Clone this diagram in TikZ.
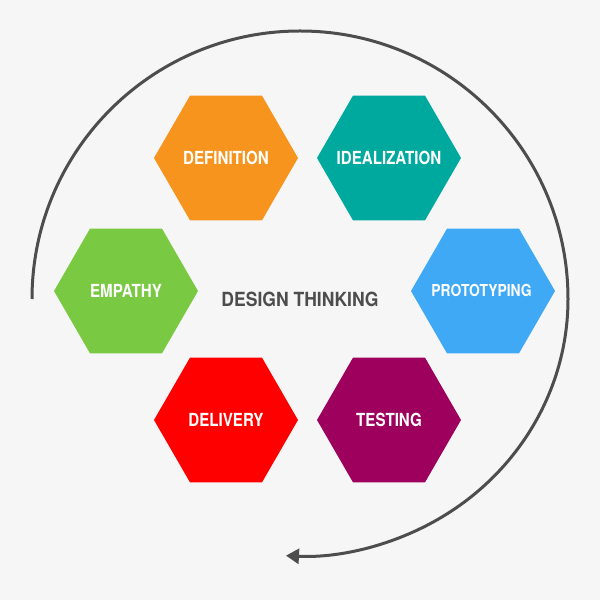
\documentclass[tikz,border=0pt]{standalone}
\usepackage{fontspec}
\setmainfont{TeX Gyre Heros}
\newfontfamily\condfont[FakeStretch=0.84]{TeX Gyre Heros}
\newfontfamily\centerfont[FakeStretch=0.9]{TeX Gyre Heros}
\usetikzlibrary{shapes.geometric,arrows.meta}
\definecolor{bgcol}{HTML}{F6F6F6}
\definecolor{linecol}{HTML}{4D4D4D}
\definecolor{cdef}{HTML}{F7941D}
\definecolor{cidea}{HTML}{00A99D}
\definecolor{cemp}{HTML}{7AC943}
\definecolor{cproto}{HTML}{3FA9F5}
\definecolor{cdeliv}{HTML}{FF0000}
\definecolor{ctest}{HTML}{9E005D}
\tikzset{
  hexbox/.style={regular polygon, regular polygon sides=6, minimum size=144pt,
    inner sep=0pt, draw=none, fill=#1},
  hexlabel/.style={text=white, font=\condfont\bfseries\fontsize{18}{20}\selectfont},
  centertext/.style={text=linecol, font=\centerfont\bfseries\fontsize{19.5}{22}\selectfont},
  cycleline/.style={draw=linecol, line width=3pt, -{Triangle[length=13pt,width=15pt]}}
}
\begin{document}
\begin{tikzpicture}[x=1pt,y=1pt]
  \useasboundingbox[fill=bgcol] (0,0) rectangle (600,600);
  \node[hexbox=cdef] (definition) at (226,442) {};
  \node[hexbox=cidea] (idealization) at (389,442) {};
  \node[hexbox=cemp] (empathy) at (126,309) {};
  \node[hexbox=cproto] (prototyping) at (483,309) {};
  \node[hexbox=cdeliv] (delivery) at (226,180) {};
  \node[hexbox=ctest] (testing) at (389,180) {};
  \node[hexlabel] (tdefinition) at (definition.center) {DEFINITION};
  \node[hexlabel] (tidealization) at (idealization.center) {IDEALIZATION};
  \node[hexlabel] (tempathy) at (empathy.center) {EMPATHY};
  \node[hexlabel, font=\condfont\bfseries\fontsize{16.5}{19}\selectfont] (tprototyping) at ([xshift=-1.5pt,yshift=1pt]prototyping.center) {PROTOTYPING};
  \node[hexlabel] (tdelivery) at (delivery.center) {DELIVERY};
  \node[hexlabel] (ttesting) at (testing.center) {TESTING};
  \node[centertext] (design) at (300,301) {DESIGN THINKING};
  \coordinate (start) at (32,301);
  \draw[cycleline] (start) arc[start angle=180, end angle=0, radius=268pt]
    arc[start angle=0, end angle=-93, x radius=268pt, y radius=257pt];
\end{tikzpicture}
\end{document}
